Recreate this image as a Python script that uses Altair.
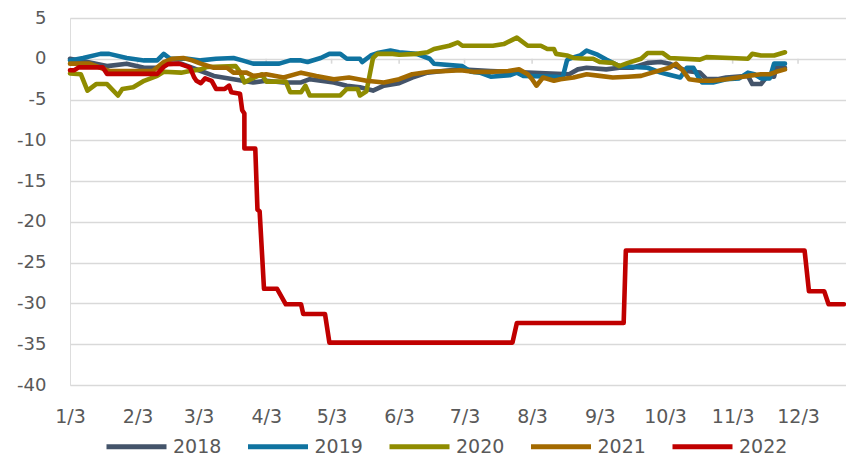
import altair as alt
import pandas as pd

years = ["2018", "2019", "2020", "2021", "2022"]
colors = ["#44546a", "#0f73a0", "#8f8c00", "#a36a00", "#c00000"]

# day of year (Jan 1 = 1) and index value
days_2018 = [3, 11, 20, 29, 37, 43, 48, 54, 63, 69, 78, 87, 93, 101, 109, 113, 124, 130, 136, 142, 147,
             154, 160, 167, 174, 182, 196, 213, 232, 236, 240, 249, 255, 261, 268, 274, 278, 286, 292,
             295, 300, 304, 314, 316, 320, 323, 326, 327, 331]
vals_2018 = [0.0, -0.4, -0.9, -0.6, -1.1, -1.1, -0.6, -0.6, -1.5, -2.1, -2.5, -2.9, -2.7, -2.9, -2.9,
             -2.5, -2.9, -3.3, -3.5, -3.9, -3.3, -3.0, -2.3, -1.7, -1.5, -1.3, -1.5, -1.7, -1.9, -1.3,
             -1.1, -1.3, -1.1, -1.1, -0.5, -0.4, -0.6, -1.5, -1.7, -2.5, -2.5, -2.3, -2.1, -3.1, -3.1,
             -2.1, -2.2, -1.1, -1.1]

days_2019 = [3, 9, 17, 21, 29, 37, 43, 46, 49, 57, 63, 70, 78, 82, 87, 99, 104, 109, 112, 118, 122,
             127, 130, 136, 137, 141, 144, 150, 154, 162, 168, 170, 183, 187, 191, 196, 205, 208, 211,
             226, 229, 231, 232, 237, 240, 245, 249, 255, 268, 274, 277, 283, 286, 289, 291, 293, 298,
             304, 310, 314, 317, 320, 324, 326, 331]
vals_2019 = [-0.2, 0.1, 0.6, 0.6, 0.1, -0.2, -0.2, 0.6, 0.0, 0.0, -0.2, 0.0, 0.1, -0.2, -0.6, -0.6,
             -0.2, -0.2, -0.4, 0.1, 0.6, 0.6, 0.0, 0.0, -0.4, 0.4, 0.7, 1.0, 0.8, 0.6, 0.0, -0.6, -0.9,
             -1.6, -1.7, -2.2, -2.0, -1.7, -2.1, -2.2, -2.3, -0.2, 0.0, 0.4, 1.0, 0.5, -0.1, -0.9, -1.1,
             -1.7, -1.9, -2.3, -1.1, -1.1, -2.1, -2.9, -2.9, -2.5, -2.4, -1.7, -1.9, -2.4, -2.4, -0.6,
             -0.6]

days_2020 = [3, 8, 11, 15, 20, 25, 27, 32, 37, 43, 46, 54, 58, 63, 66, 79, 81, 83, 86, 91, 93, 102,
             104, 109, 111, 113, 127, 130, 135, 136, 139, 142, 144, 151, 154, 162, 167, 170, 177, 181,
             183, 197, 202, 205, 208, 213, 219, 222, 225, 226, 231, 234, 240, 243, 246, 252, 255, 259,
             265, 268, 275, 278, 292, 295, 306, 314, 316, 320, 326, 331]
vals_2020 = [-1.8, -1.9, -3.9, -3.1, -3.1, -4.5, -3.7, -3.5, -2.7, -2.1, -1.6, -1.7, -1.5, -1.3, -1.0,
             -0.9, -1.6, -2.9, -2.5, -1.9, -2.8, -2.8, -4.1, -4.1, -3.3, -4.5, -4.5, -3.7, -3.7, -4.5,
             -4.0, 0.1, 0.6, 0.6, 0.5, 0.6, 0.8, 1.2, 1.6, 2.0, 1.6, 1.6, 1.8, 2.2, 2.6, 1.6, 1.6, 1.2,
             1.2, 0.6, 0.4, 0.1, 0.0, 0.0, -0.4, -0.5, -0.9, -0.5, 0.0, 0.7, 0.7, 0.1, -0.1, 0.2, 0.1,
             0.0, 0.6, 0.4, 0.4, 0.8]

days_2021 = [3, 12, 17, 21, 41, 46, 50, 55, 59, 63, 69, 75, 78, 84, 87, 93, 101, 109, 116, 124, 131,
             139, 147, 154, 160, 168, 176, 182, 188, 197, 204, 209, 213, 215, 217, 220, 225, 228, 234,
             240, 246, 252, 259, 265, 270, 278, 281, 284, 287, 292, 298, 304, 314, 320, 324, 327, 331]
vals_2021 = [-0.6, -0.6, -1.1, -1.5, -1.5, -0.4, 0.0, 0.1, -0.2, -0.6, -1.1, -1.1, -1.7, -1.7, -2.1,
             -1.9, -2.3, -1.7, -2.1, -2.5, -2.3, -2.7, -2.9, -2.5, -1.9, -1.6, -1.5, -1.4, -1.6, -1.6,
             -1.5, -1.3, -1.9, -2.5, -3.3, -2.3, -2.7, -2.5, -2.3, -1.9, -2.1, -2.3, -2.2, -2.1, -1.7,
             -1.1, -0.6, -1.4, -2.5, -2.7, -2.7, -2.5, -2.1, -1.9, -1.9, -1.6, -1.3]

days_2022 = [3, 5, 7, 18, 20, 43, 46, 48, 53, 58, 60, 61, 63, 65, 68, 70, 74, 76, 77, 81, 82, 83, 83,
             88, 89, 90, 92, 98, 102, 109, 110, 120, 122, 206, 208, 257, 258, 340, 342, 349, 351, 358]
vals_2022 = [-1.4, -1.4, -1.05, -1.05, -1.85, -1.85, -1.0, -0.65, -0.6, -1.05, -2.3, -2.7, -3.0, -2.4,
             -2.7, -3.7, -3.7, -3.3, -4.1, -4.3, -6.3, -6.7, -11.0, -11.0, -18.5, -18.7, -28.2, -28.2,
             -30.1, -30.1, -31.3, -31.3, -34.8, -34.8, -32.4, -32.4, -23.5, -23.5, -28.5, -28.5, -30.1,
             -30.1]

tick_months = list(range(1, 13))
y_ticks = [5, 0, -5, -10, -15, -20, -25, -30, -35, -40]

series = {
    "2018": (days_2018, vals_2018),
    "2019": (days_2019, vals_2019),
    "2020": (days_2020, vals_2020),
    "2021": (days_2021, vals_2021),
    "2022": (days_2022, vals_2022),
}

base = pd.Timestamp("2022-01-01")
rows = []
for yr in years:
    ds, vs = series[yr]
    for i, (d, v) in enumerate(zip(ds, vs)):
        rows.append({"year": yr, "date": base + pd.Timedelta(days=d - 1), "value": v, "idx": i})
df = pd.DataFrame(rows)

tick_df = pd.DataFrame({"date": [pd.Timestamp(2022, m, 3) for m in tick_months]})

x_domain = [alt.DateTime(year=2022, month=1, date=3),
            alt.DateTime(year=2022, month=12, date=25)]
x_values = [alt.DateTime(year=2022, month=m, date=3) for m in tick_months]

font = "DejaVu Sans"
grey_txt = "#595959"
grid = "#d9d9d9"

x_enc = alt.X(
    "date:T",
    scale=alt.Scale(domain=x_domain),
    axis=alt.Axis(values=x_values, format="%-m/%-d", title=None, grid=False, domain=False,
                  ticks=False, labelPadding=22, labelFontSize=19, labelColor=grey_txt,
                  labelFont=font, labelFlush=False, labelOverlap=False),
)
y_enc = alt.Y(
    "value:Q",
    scale=alt.Scale(domain=[-40, 5], nice=False, zero=False),
    axis=alt.Axis(values=y_ticks, title=None, grid=True, gridColor=grid, gridWidth=1.6,
                  domain=False, ticks=False, labelPadding=24, labelFontSize=18,
                  labelColor=grey_txt, labelFont=font, labelExpr="'' + datum.value"),
)

ticks = alt.Chart(tick_df).mark_rule(color=grid, strokeWidth=1.6).encode(
    x=x_enc, y=alt.datum(0), y2=alt.datum(-0.6)
)

lines = alt.Chart(df).mark_line(strokeWidth=4.6, strokeCap="round", strokeJoin="round").encode(
    x=x_enc,
    y=y_enc,
    color=alt.Color(
        "year:N",
        scale=alt.Scale(domain=years, range=colors),
        legend=alt.Legend(
            title=None, orient="none", legendX=34, legendY=396, direction="horizontal",
            symbolType="stroke", symbolSize=3600, symbolStrokeWidth=5, labelFontSize=19,
            labelColor=grey_txt, labelFont=font, columnPadding=15.5, labelOffset=4, padding=0,
        ),
    ),
    order=alt.Order("idx:Q"),
)

chart = alt.layer(ticks, lines).properties(
    width=776, height=367,
    autosize=alt.AutoSizeParams(type="none"),
    padding={"left": 62, "top": 10, "right": 0, "bottom": 72},
).configure_view(stroke=None).configure(background="white")

chart.save("out.html", embed_options={"renderer": "svg", "actions": False})
